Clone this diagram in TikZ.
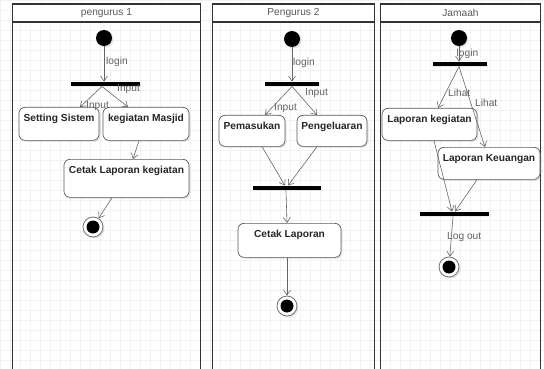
\documentclass[tikz,border=0pt]{standalone}
\usepackage{fontspec}
\setmainfont{Liberation Sans}
\usetikzlibrary{arrows.meta,shadows}
\begin{document}
\begin{tikzpicture}[x=1pt,y=-1pt,
  every node/.style={font=\fontsize{10.2}{12}\selectfont},
  lane/.style={draw=black!80, line width=1.1pt},
  hdr/.style={text=black!65},
  act/.style={draw=black!65, line width=0.7pt, fill=white, rounded corners=6pt,
    drop shadow={opacity=0.2, shadow xshift=1.5pt, shadow yshift=-1.5pt},
    anchor=north, font=\fontsize{10.2}{12}\selectfont\bfseries, text=black!85,
    text height=10pt, inner ysep=4pt, inner xsep=2pt},
  barnode/.style={fill=black, draw=none, minimum height=4.5pt, inner sep=0pt,
    drop shadow={opacity=0.15, shadow xshift=1pt, shadow yshift=-1pt}},
  startnode/.style={circle, fill=black, minimum size=16pt, inner sep=0pt,
    drop shadow={opacity=0.2, shadow xshift=1.5pt, shadow yshift=-1.5pt}},
  endnode/.style={circle, draw=black!55, line width=0.8pt, fill=white, minimum size=20pt, inner sep=0pt,
    drop shadow={opacity=0.2, shadow xshift=1.5pt, shadow yshift=-1.5pt}},
  flow/.style={draw=black!60, line width=0.6pt, -{Straight Barb[length=5pt,width=7pt]}},
  lbl/.style={text=black!62, inner sep=0pt, anchor=west}
]
\useasboundingbox (0,0) rectangle (544,369);
\fill[white] (0,0) rectangle (544,369);
% grid
\foreach \gx in {0,10,...,540} \draw[black!5, line width=0.4pt] (\gx,0) -- (\gx,369);
\foreach \gy in {0,10,...,360} \draw[black!5, line width=0.4pt] (0,\gy) -- (544,\gy);

% lanes
\foreach \lx/\rx in {12.5/200.5, 212.5/374.5, 380.5/540.5}{
  \fill[white] (\lx,4) rectangle (\rx,22);
  \draw[lane] (\lx,369.5) -- (\lx,4) -- (\rx,4) -- (\rx,369.5);
  \draw[lane] (\lx,22) -- (\rx,22);
}
\node[hdr] (h1) at (106.5,13) {pengurus 1};
\node[hdr] (h2) at (293.5,13) {Pengurus 2};
\node[hdr] (h3) at (460.5,13) {Jamaah};

% ---------- lane 1
\node[startnode] (i1) at (104,38) {};
\node[barnode, minimum width=69pt] (j1) at (105.5,84) {};
\node[act, minimum width=80pt, text depth=15pt] (ss) at (59,107) {Setting Sistem};
\node[act, minimum width=86pt, text depth=15pt] (km) at (146,107) {kegiatan Masjid};
\node[act, minimum width=125pt, text depth=20pt] (clk) at (126.5,159) {Cetak Laporan kegiatan};
\node[endnode] (f1) at (93,227) {};
\fill[black] (f1.center) circle (6.5pt);

\draw[flow] (i1.south) -- (i1 |- j1.north);
\draw[flow] ([xshift=-3.5pt]j1.south) -- ([xshift=21pt]ss.north);
\draw[flow] ([xshift=-3.5pt]j1.south) -- ([xshift=-18pt]km.north);
\draw[flow] ([xshift=-7pt]km.south) -- ([xshift=6.5pt]clk.north);
\draw[flow] ([xshift=-14.5pt]clk.south) -- (f1);
\node[lbl] (l1) at (106,62) {login};
\node[lbl] (l2) at (117,89) {Input};
\node[lbl] (l3) at (86,106) {Input};

% ---------- lane 2
\node[startnode] (i2) at (292,39) {};
\node[barnode, minimum width=54pt] (j2) at (292,84) {};
\node[act, minimum width=66pt, text depth=13pt] (pm) at (252,115) {Pemasukan};
\node[act, minimum width=70pt, text depth=13pt] (pk) at (332,115) {Pengeluaran};
\node[barnode, minimum width=68pt] (j3) at (287,188) {};
\node[act, minimum width=103pt, text depth=16pt] (cl) at (289.5,223) {Cetak Laporan};
\node[endnode] (f2) at (287,306) {};
\fill[black] (f2.center) circle (6.5pt);

\draw[flow] (i2.south) -- (i2 |- j2.north);
\draw[flow] (j2.south) -- ([xshift=13pt]pm.north);
\draw[flow] (j2.south) -- ([xshift=-15pt]pk.north);
\draw[flow] ([xshift=10pt]pm.south) -- ([xshift=-2pt]j3.north);
\draw[flow] ([xshift=-15pt]pk.south) -- ([xshift=1pt]j3.north);
\draw[flow] ([xshift=-1pt]j3.south) -- ([xshift=-2.5pt]cl.north);
\draw[flow] ([xshift=-2.5pt]cl.south) -- (f2);
\node[lbl] (l4) at (293,63) {login};
\node[lbl] (l5) at (305,93) {Input};
\node[lbl] (l6) at (274,108) {Input};

% ---------- lane 3
\node[startnode] (i3) at (459,38) {};
\node[barnode, minimum width=54pt] (j4) at (460,64) {};
\node[act, minimum width=95pt, text depth=14pt] (lkg) at (429.5,108) {Laporan kegiatan};
\node[act, minimum width=102pt, text depth=14pt] (lku) at (489,147) {Laporan Keuangan};
\node[barnode, minimum width=69pt] (j5) at (454.5,214) {};
\node[endnode] (f3) at (449,267) {};
\fill[black] (f3.center) circle (6.5pt);

\draw[flow] (i3.south) -- (i3 |- j4.north);
\draw[flow] ([xshift=-1pt]j4.south) -- ([xshift=8.5pt]lkg.north);
\draw[flow] ([xshift=-1pt]j4.south) -- ([xshift=-4pt]lku.north);
\draw[flow] ([xshift=4.5pt]lkg.south) -- ([xshift=-2.5pt]j5.north);
\draw[flow] ([xshift=-12pt]lku.south) -- ([xshift=0.5pt]j5.north);
\draw[flow] ([xshift=-1.5pt]j5.south) -- (f3);
\node[lbl] (l7) at (456.5,54) {login};
\node[lbl] (l8) at (448,93) {Lihat};
\node[lbl] (l9) at (475,103) {Lihat};
\node[lbl] (l10) at (447,237) {Log out};
\end{tikzpicture}
\end{document}
